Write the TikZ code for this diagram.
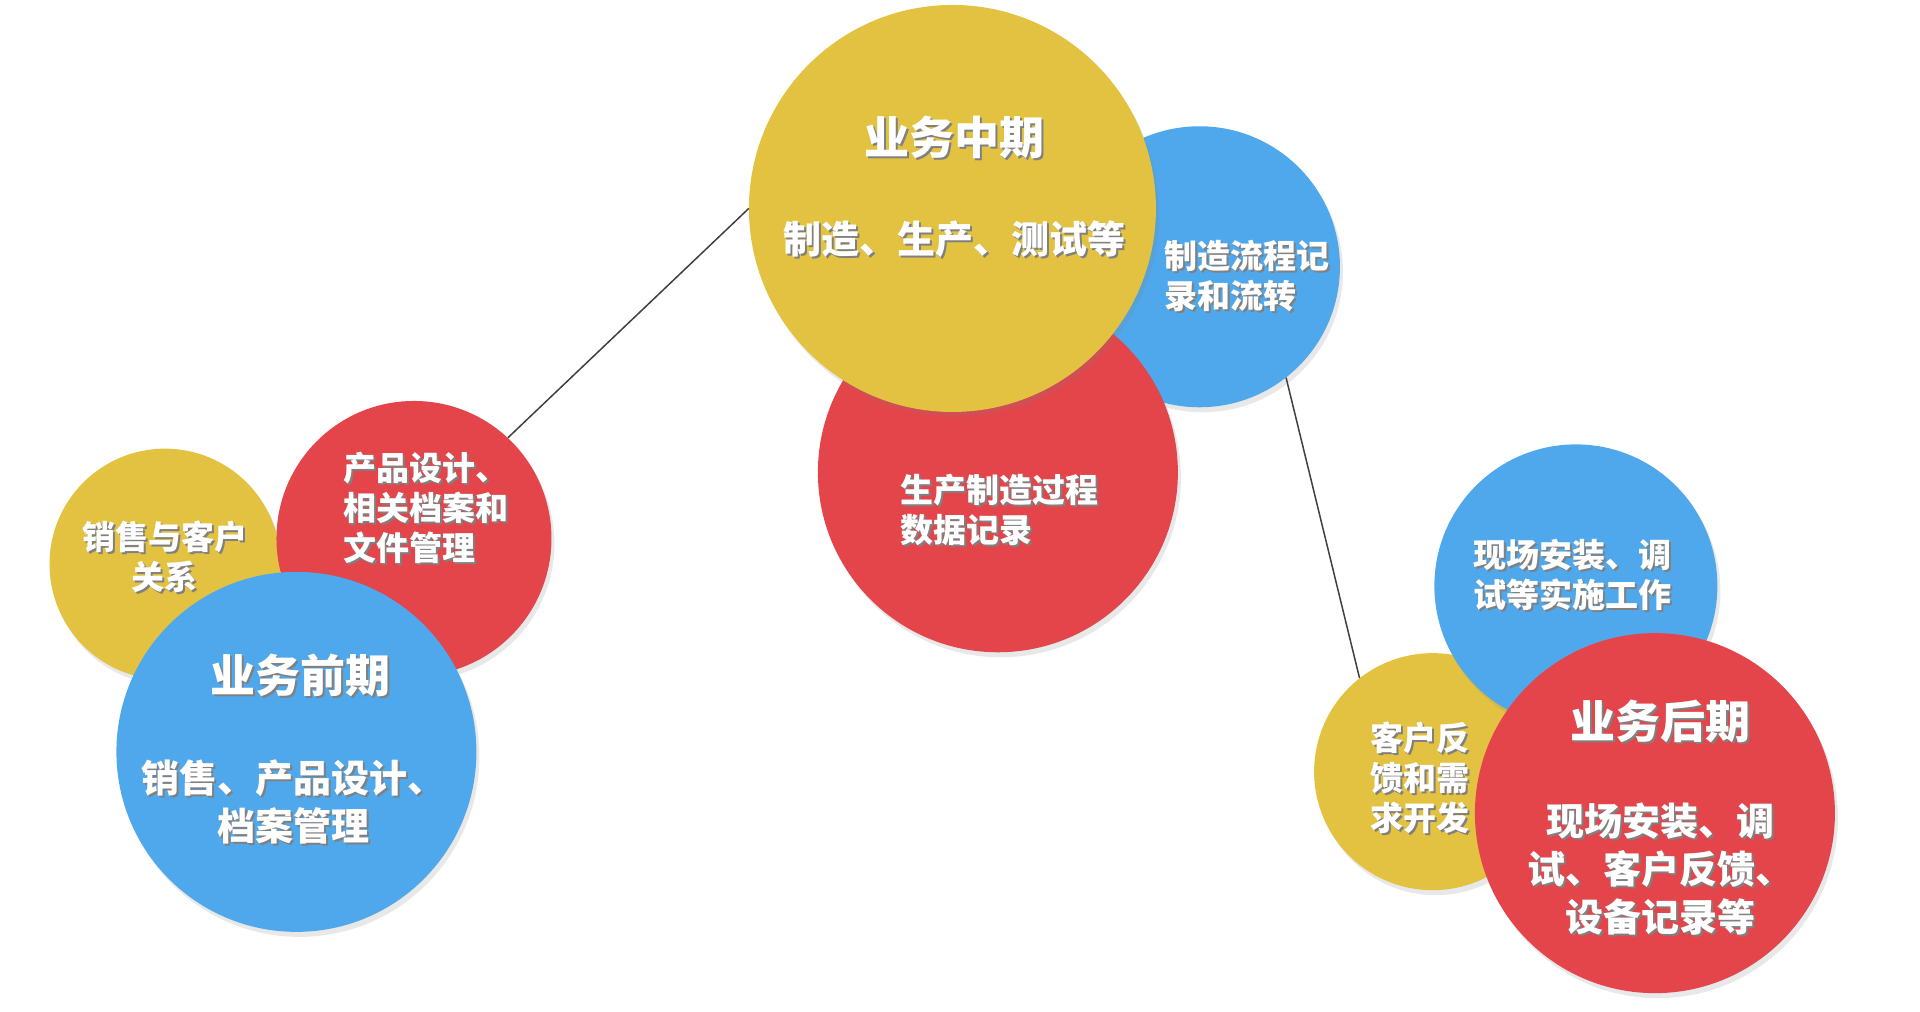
\documentclass[tikz,border=0pt]{standalone}
\usepackage{fontspec}
\newfontfamily\cjk{Noto Sans CJK SC}
\usetikzlibrary{shadows}
\definecolor{cy}{HTML}{E3C241}
\definecolor{cr}{HTML}{E3454A}
\definecolor{cb}{HTML}{4FA8EC}
\newcommand\sh[1]{\makebox[0pt][l]{\kern2pt\raisebox{-2pt}{\textcolor{black!50}{#1}}}#1}
\tikzset{
  disc/.style={circle, inner sep=0pt, minimum size=#1,
    drop shadow={opacity=0.18, shadow xshift=3pt, shadow yshift=-5pt}},
  ttl/.style={font=\cjk\bfseries\fontsize{45}{54}\selectfont, text=white, align=center},
  sub/.style={font=\cjk\bfseries\fontsize{38}{48}\selectfont, text=white, align=center},
  sml/.style={font=\cjk\bfseries\fontsize{33}{40}\selectfont, text=white},
  link/.style={line width=1.5pt, black!75}
}
\begin{document}
\begin{tikzpicture}[x=0.988pt,y=-0.988pt]
\useasboundingbox (0,0) rectangle (1943.3,1023.3);
\fill[white] (0,0) rectangle (1943.3,1023.3);
% middle group
\node[disc=281, fill=cb] (mb) at (1214,270) {};
\node[disc=360, fill=cr] (mr) at (1010,478) {};
\node[disc=407, fill=cy] (mid) at (964,211) {};
% left group
\node[disc=231, fill=cy] (ly) at (167,571) {};
\node[disc=275, fill=cr] (lr) at (419,545) {};
\node[disc=360, fill=cb] (lb) at (300,761) {};
% right group
\node[disc=237, fill=cy] (ry) at (1450,781) {};
\node[disc=283, fill=cb] (rb) at (1595,593) {};
\node[disc=360, fill=cr] (rr) at (1675,823) {};
% connectors
\draw[link] (lr.47) -- (mid.180);
\draw[link] (mb.-52) -- (ry.128);
% texts
\node[ttl] (tmid) at (966,140) {\sh{业务中期}};
\node[sub] (smid) at (966,243) {\sh{制造、生产、测试等}};
\node[sml, align=left, anchor=west] (tmb) at (1175,280) {\sh{制造流程记}\\\sh{录和流转}};
\node[sml, align=left, anchor=west] (tmr) at (908,517) {\sh{生产制造过程}\\\sh{数据记录}};
\node[sml, align=left, anchor=west] (tlr) at (344,515) {\sh{产品设计、}\\\sh{相关档案和}\\\sh{文件管理}};
\node[sml, align=center] (tly) at (167,565) {\sh{销售与客户}\\\sh{关系}};
\node[ttl] (tlb) at (304,685) {\sh{业务前期}};
\node[sub] (slb) at (297,813) {\sh{销售、产品设计、}\\\sh{档案管理}};
\node[sml, align=center] (trb) at (1592,583) {\sh{现场安装、调}\\\sh{试等实施工作}};
\node[sml, align=center] (try) at (1437,788) {\sh{客户反}\\\sh{馈和需}\\\sh{求开发}};
\node[ttl] (trr) at (1681,731) {\sh{业务后期}};
\node[sub] (srr) at (1681,881) {\sh{现场安装、调}\\\sh{试、客户反馈、}\\\sh{设备记录等}};
\end{tikzpicture}
\end{document}
